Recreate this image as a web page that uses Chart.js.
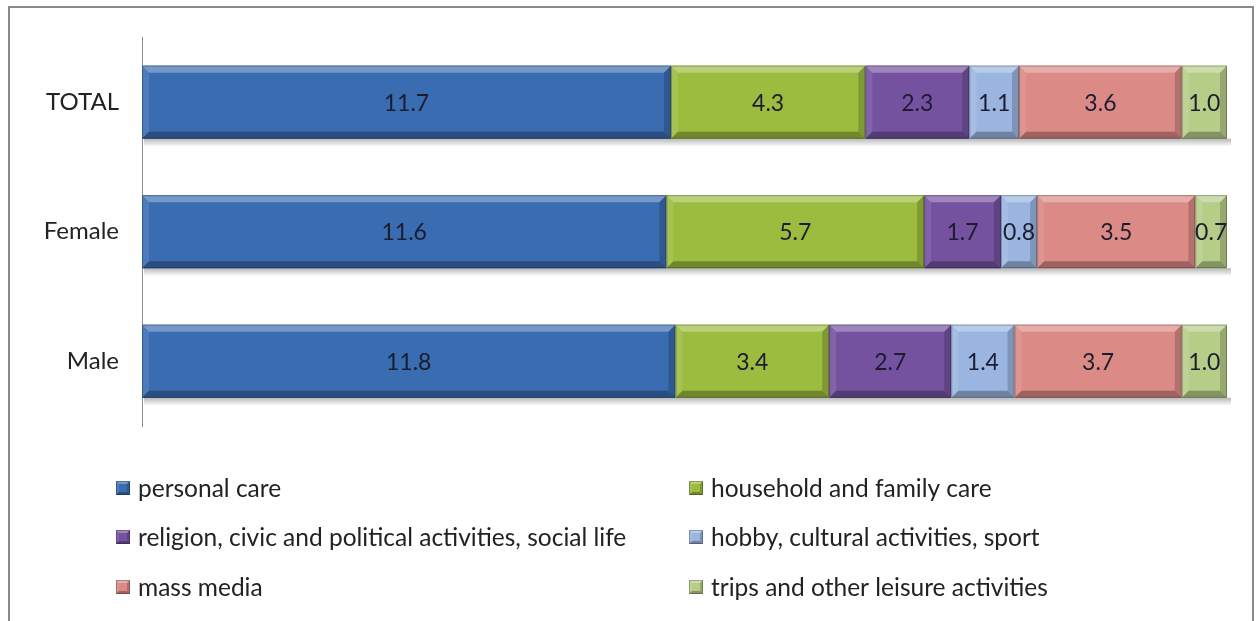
<!DOCTYPE html>
<html>
<head>
<meta charset="utf-8">
<script src="https://cdn.jsdelivr.net/npm/chart.js@4/dist/chart.umd.min.js"></script>
<style>
  html, body { margin: 0; padding: 0; background: #fff; }
  #wrap { position: relative; width: 1258px; height: 621px; overflow: hidden; }
  #frame {
    position: absolute; left: 8px; top: 6px; width: 1246px; height: 640px;
    border: 2px solid #8a8a8a; box-sizing: border-box;
  }
  #timeChart { position: absolute; left: 0; top: 0; }
</style>
</head>
<body>
<div id="wrap">
  <div id="frame"></div>
  <canvas id="timeChart" width="1258" height="621"></canvas>
</div>
<script>
// hours per day by activity group
const categories = ['TOTAL', 'Female', 'Male'];
const personalCare   = [11.7, 11.6, 11.8];
const householdCare  = [4.3, 5.7, 3.4];
const religionSocial = [2.3, 1.7, 2.7];
const hobbySport     = [1.1, 0.8, 1.4];
const massMedia      = [3.6, 3.5, 3.7];
const tripsLeisure   = [1.0, 0.7, 1.0];
const seriesNames = [
    'personal care',
    'household and family care',
    'religion, civic and political activities, social life',
    'hobby, cultural activities, sport',
    'mass media',
    'trips and other leisure activities'
];
const seriesColors = ['#3a6cb1', '#9cbc3f', '#7452a0', '#9ab6e0', '#db8a86', '#b6cd88'];
const hoursInDay = 24;

const FONT = 'Lato, "Open Sans", sans-serif';

const seriesValues = [personalCare, householdCare, religionSocial, hobbySport, massMedia, tripsLeisure];

// bevelled block like the old office 3D bar style
function bevelRect(c, L, T, R, B, color, b) {
    c.fillStyle = color;
    c.fillRect(L, T, R - L, B - T);
    const w = R - L;
    const bb = Math.min(b, w / 2);
    c.fillStyle = 'rgba(255,255,255,0.3)';
    c.beginPath(); c.moveTo(L, T); c.lineTo(R, T); c.lineTo(R - bb, T + bb); c.lineTo(L + bb, T + bb); c.closePath(); c.fill();
    c.fillStyle = 'rgba(255,255,255,0.1)';
    c.beginPath(); c.moveTo(L, T); c.lineTo(L + bb, T + bb); c.lineTo(L + bb, B - bb); c.lineTo(L, B); c.closePath(); c.fill();
    c.fillStyle = 'rgba(0,0,0,0.28)';
    c.beginPath(); c.moveTo(L, B); c.lineTo(R, B); c.lineTo(R - bb, B - bb); c.lineTo(L + bb, B - bb); c.closePath(); c.fill();
    c.fillStyle = 'rgba(0,0,0,0.18)';
    c.beginPath(); c.moveTo(R, T); c.lineTo(R, B); c.lineTo(R - bb, B - bb); c.lineTo(R - bb, T + bb); c.closePath(); c.fill();
    c.strokeStyle = 'rgba(0,0,0,0.25)';
    c.lineWidth = 1;
    c.strokeRect(L + 0.5, T + 0.5, w - 1, B - T - 1);
}

const barStyle = {
    id: 'barStyle',
    beforeDatasetsDraw(chart) {
        // soft shadow under each stacked row
        const c = chart.ctx;
        const first = chart.getDatasetMeta(0).data;
        const last = chart.getDatasetMeta(chart.data.datasets.length - 1).data;
        c.save();
        first.forEach((el, i) => {
            const bottom = el.y + el.height / 2;
            const g = c.createLinearGradient(0, bottom, 0, bottom + 8);
            g.addColorStop(0, 'rgba(0,0,0,0.28)');
            g.addColorStop(1, 'rgba(0,0,0,0)');
            c.fillStyle = g;
            c.fillRect(el.base + 2, bottom, last[i].x - el.base + 2, 8);
        });
        c.restore();
    },
    afterDatasetsDraw(chart) {
        const c = chart.ctx;
        c.save();
        chart.data.datasets.forEach((ds, d) => {
            chart.getDatasetMeta(d).data.forEach((el, i) => {
                const L = Math.min(el.base, el.x), R = Math.max(el.base, el.x);
                const T = el.y - el.height / 2, B = el.y + el.height / 2;
                bevelRect(c, L, T, R, B, ds.backgroundColor, 7);
                c.fillStyle = '#1c1c30';
                c.font = '23px ' + FONT;
                c.textAlign = 'center';
                c.textBaseline = 'middle';
                c.fillText(ds.data[i].toFixed(1), (L + R) / 2, el.y + 1);
            });
        });
        c.restore();
    }
};

// two-column legend under the plot
const gridLegend = {
    id: 'gridLegend',
    afterDraw(chart) {
        const c = chart.ctx;
        const colX = [116, 689];
        const rowY = [488, 537, 587];
        c.save();
        chart.data.datasets.forEach((ds, d) => {
            const x = colX[d % 2], y = rowY[Math.floor(d / 2)];
            bevelRect(c, x, y - 7, x + 14, y + 7, ds.backgroundColor, 3);
            c.fillStyle = '#222';
            c.font = '24.5px ' + FONT;
            c.textAlign = 'left';
            c.textBaseline = 'middle';
            c.fillText(ds.label, x + 22, y + 1);
        });
        c.restore();
    }
};

new Chart(document.getElementById('timeChart'), {
    type: 'bar',
    data: {
        labels: categories,
        datasets: seriesNames.map((name, i) => ({
            label: name,
            data: seriesValues[i],
            backgroundColor: seriesColors[i],
            borderWidth: 0,
            categoryPercentage: 1,
            barPercentage: 0.564
        }))
    },
    options: {
        indexAxis: 'y',
        responsive: false,
        animation: false,
        layout: { padding: { top: 37, right: 31, bottom: 195, left: 0 } },
        plugins: { legend: { display: false }, tooltip: { enabled: false } },
        scales: {
            x: { stacked: true, min: 0, max: hoursInDay, display: false },
            y: {
                stacked: true,
                grid: { display: false, drawTicks: false },
                border: { display: true, color: '#8c8c8c', width: 1 },
                ticks: { color: '#222', font: { family: FONT, size: 24 }, padding: 23 },
                afterFit(scale) { scale.width = 142; }
            }
        }
    },
    plugins: [barStyle, gridLegend]
});
</script>
</body>
</html>
